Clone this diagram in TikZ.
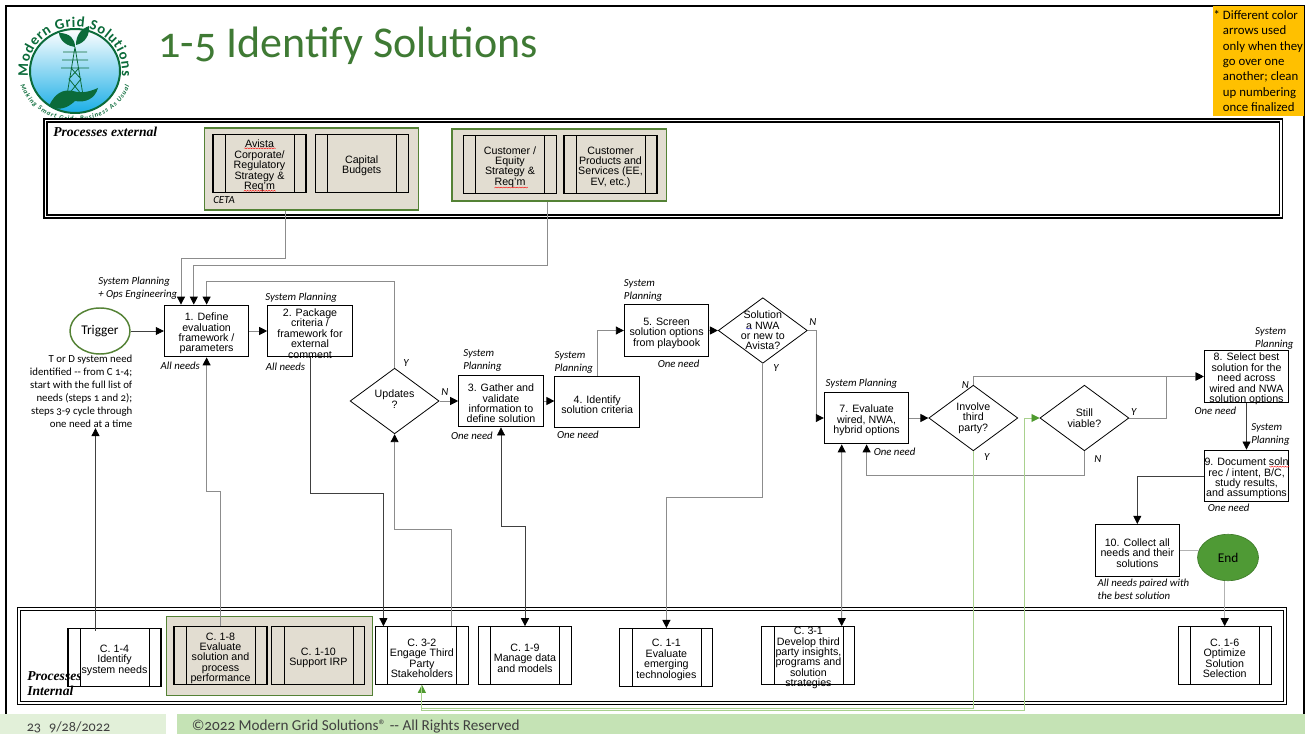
\documentclass[tikz,border=0pt]{standalone}
\usepackage{fontspec}
\usepackage{tikz}
\usetikzlibrary{arrows.meta,calc,shapes.geometric,decorations.text,decorations.pathmorphing}
\setmainfont{Liberation Sans}
\newfontfamily\cbfont[Numbers=OldStyle]{Carlito}
\newfontfamily\tmfont{Liberation Serif}
\newcommand{\firstline}{\rule{0pt}{9.6pt}}
\definecolor{titlegreen}{HTML}{3F7A34}
\definecolor{boxgreen}{HTML}{548235}
\definecolor{tanbg}{HTML}{E2DDD1}
\definecolor{logogreen}{HTML}{0B6B3A}
\definecolor{logoblue}{HTML}{1AAEE6}
\definecolor{notebg}{HTML}{FFC000}
\definecolor{foota}{HTML}{E2F0D9}
\definecolor{footb}{HTML}{C5E3B5}
\definecolor{grayline}{HTML}{8C8C8C}
\definecolor{lightgreen}{HTML}{A9D18E}
\definecolor{tipgreen}{HTML}{4E9A2E}
\definecolor{endgreen}{HTML}{4F9A35}
\begin{document}
\begin{tikzpicture}[x=0.75pt,y=-0.75pt,>={Triangle[length=6pt,width=6pt,color=black]}]
	\tikzstyle{boxtext}=[font=\fontsize{8}{7.8}\selectfont,align=center];
	\tikzstyle{stepbox}=[draw,line width=.8pt,fill=white,boxtext,inner sep=0pt,minimum width=63.4pt,minimum height=38.8pt];
	\tikzstyle{procbox}=[draw,line width=.8pt,fill=white,boxtext,inner sep=0pt,minimum width=69.75pt,minimum height=43.2pt,
		path picture={\draw[line width=.6pt] ([xshift=9pt]path picture bounding box.north west) -- ([xshift=9pt]path picture bounding box.south west)
		([xshift=-9pt]path picture bounding box.north east) -- ([xshift=-9pt]path picture bounding box.south east);}];
	\tikzstyle{tanbox}=[procbox,fill=tanbg];
	\tikzstyle{groupbox}=[draw=boxgreen,line width=.9pt,fill=tanbg,inner sep=0pt];
	\tikzstyle{decision}=[draw,line width=.6pt,fill=white,shape=diamond,inner sep=0pt,minimum width=66.75pt,minimum height=49.2pt];
	\tikzstyle{frame}=[draw,fill=white,line width=.9pt,double,double distance=1.4pt,inner sep=0pt];
	\tikzstyle{role}=[font=\cbfont\itshape\fontsize{8.1}{9.75}\selectfont,align=left,anchor=west,inner sep=0pt];
	\tikzstyle{kline}=[draw=black!75,line width=.5pt];
	\tikzstyle{gline}=[draw=grayline,line width=.7pt];
	\tikzstyle{greenline}=[draw=lightgreen,line width=.7pt,-{Triangle[length=6pt,width=6pt,color=tipgreen]}];
	\tikzstyle{squig}=[line width=.3pt,decorate,decoration={snake,amplitude=.35pt,segment length=2pt}];
	\useasboundingbox (0,0) rectangle (1305,734);

	% slide
	\draw[line width=1.5pt] (6,714) -- (6,6) -- (1304,6) -- (1304,714);
	\node[font=\cbfont\fontsize{33}{33}\selectfont,text=titlegreen,anchor=west,inner sep=0pt] (title) at (158,46) {1-5 Identify Solutions};
	\node[fill=notebg,inner sep=0pt,minimum width=68pt,minimum height=82.5pt] (note) at (1258.6,61) {};
	\node[font=\cbfont\fontsize{9.6}{11.5}\selectfont,align=left,anchor=north west,inner sep=0pt] (notetext) at (1222.7,10) {\llap{* }Different color\\arrows used\\only when they\\go over one\\another; clean\\up numbering\\once finalized};

	% logo
	\begin{scope}[x=0.75pt,y=0.75pt,shift={(56.25pt,-53.25pt)}]
		\shade[top color=white,middle color=white!60!logoblue,bottom color=logoblue,draw=logogreen,line width=1.5pt] (0,0) ellipse (45 and 42);
		\draw[logogreen,line width=.6pt] (0,24) -- (-8,-24) (0,24) -- (8,-24)
			(-12,19) -- (12,19) (-13,11) -- (13,11) (-14,3) -- (14,3)
			(-4,3) -- (6,-8) (4,3) -- (-6,-8) (-6,-8) -- (7,-24) (6,-8) -- (-7,-24);
		\fill[logogreen] (0,24) .. controls (-14,26) and (-16,36) .. (-16,38) .. controls (-5,38) and (0,32) .. (0,24);
		\fill[logogreen] (1,26) .. controls (1,36) and (6,42) .. (14,45) .. controls (15,36) and (10,28) .. (1,26);
		\fill[logogreen] (-26,-35) .. controls (-20,-22) and (-12,-18) .. (-2,-20) .. controls (4,-22) and (12,-22) .. (23,-17)
			.. controls (20,-28) and (10,-32) .. (0,-30) .. controls (-8,-38) and (-18,-40) .. (-26,-35);
		\path[decorate,decoration={text along path,text color=logogreen,text={|\cbfont\fontsize{11}{12}\selectfont\bfseries|Modern Grid Solutions},text align={fit to path}}]
			(187:47 and 44) arc (187:-7:47 and 44);
		\path[decorate,decoration={text along path,text color=logogreen,text={|\cbfont\fontsize{5}{6}\selectfont\bfseries\itshape|Making Smart Grids Business As Usual},text align={fit to path}}]
			(197:57 and 50) arc (197:343:57 and 50);
	\end{scope}

	% process frames
	\node[frame,minimum width=926.6pt,minimum height=72pt] (extframe) at (663.25,168.5) {};
	\node[frame,minimum width=949.6pt,minimum height=70.7pt] (intframe) at (651.9,655.85) {};
	\node[font=\tmfont\bfseries\itshape\fontsize{10.2}{11}\selectfont,anchor=west,inner sep=0pt] (extlabel) at (53,132) {Processes external};

	% groups
	\node[groupbox,minimum width=160.3pt,minimum height=61.5pt] (ga) at (311.6,169) {};
	\node[groupbox,minimum width=160.9pt,minimum height=54pt] (gb) at (559.2,165) {};
	\node[groupbox,minimum width=154.7pt,minimum height=59pt] (gc) at (269.35,656) {};

	% external
	\node[tanbox] (pa) at (259.5,163.5) {\firstline Avista\\Corporate/\\Regulatory\\Strategy \&\\Req'm};
	\node[tanbox] (pb) at (361.7,163.5) {\firstline Capital\\Budgets};
	\node[tanbox] (pc) at (510,164.5) {\firstline Customer /\\Equity\\Strategy \&\\Req'm};
	\node[tanbox] (pd) at (610.5,164.5) {\firstline Customer\\Products and\\Services (EE,\\EV, etc.)};
	\node[role] (ceta) at (213,200) {CETA};

	% internal
	\node[procbox] (c14) at (114.5,657.3) {\firstline C. 1-4\\Identify\\system needs};
	\node[tanbox] (c18) at (220.5,655.5) {\firstline C. 1-8\\Evaluate\\solution and\\process\\performance};
	\node[tanbox] (c110) at (318.4,655.5) {\firstline C. 1-10\\Support IRP};
	\node[procbox] (c32) at (421.9,655.5) {\firstline C. 3-2\\Engage Third\\Party\\Stakeholders};
	\node[procbox] (c19) at (525,655.5) {\firstline C. 1-9\\Manage data\\and models};
	\node[procbox] (c11) at (666.4,657.3) {\firstline C. 1-1\\Evaluate\\emerging\\technologies};
	\node[procbox,label={[name=c31text,boxtext]center:{\firstline C. 3-1\\Develop third\\party insights,\\programs and\\solution\\strategies}}] (c31) at (808.4,655.5) {};
	\node[procbox] (c16) at (1224.7,655.5) {\firstline C. 1-6\\Optimize\\Solution\\Selection};
	\node[font=\tmfont\bfseries\itshape\fontsize{10.2}{11.8}\selectfont,align=left,anchor=west,inner sep=0pt] (intlabel) at (27,683.5) {Processes\\Internal};

	% flow
	\node[draw=boxgreen,line width=1.1pt,fill=white,shape=ellipse,inner sep=0pt,minimum width=45pt,minimum height=34.5pt,font=\cbfont\fontsize{10}{11}\selectfont] (trig) at (100,331) {Trigger};
	\node[font=\cbfont\fontsize{8.1}{9.75}\selectfont,align=right,anchor=north east,inner sep=0pt] (trignote) at (132.6,355) {T or D system need\\identified -- from C 1-4;\\start with the full list of\\needs (steps 1 and 2);\\steps 3-9 cycle through\\one need at a time};
	\node[stepbox] (s1) at (206.6,331) {\firstline 1. Define\\evaluation\\framework /\\parameters};
	\node[stepbox,label={[name=s2text,boxtext]center:{\firstline 2. Package\\criteria /\\framework for\\external\\comment}}] (s2) at (310,331) {};
	\node[decision,label={[name=d2text,boxtext,yshift=1.5pt]center:{Updates\\?}}] (d2) at (394.6,401) {};
	\node[stepbox] (s3) at (501,401) {\firstline 3. Gather and\\validate\\information to\\define solution};
	\node[stepbox] (s4) at (597.2,402) {\firstline 4. Identify\\solution criteria};
	\node[stepbox] (s5) at (666.6,330.5) {\firstline 5. Screen\\solution options\\from playbook};
	\node[decision,label={[name=d5text,boxtext]center:{Solution\\a NWA\\or new to\\Avista?}}] (d5) at (762.8,330.5) {};
	\node[stepbox] (s7) at (866.6,418) {\firstline 7. Evaluate\\wired, NWA,\\hybrid options};
	\node[decision,label={[name=d7text,boxtext]center:{Involve\\third\\party?}}] (d7) at (973.3,418) {};
	\node[decision,label={[name=d8text,boxtext]center:{Still\\viable?}}] (d8) at (1084.4,418) {};
	\node[stepbox,label={[name=s8text,boxtext]center:{\firstline 8. Select best\\solution for the\\need across\\wired and NWA\\solution options}}] (s8) at (1246.5,376.5) {};
	\node[stepbox] (s9) at (1246.5,476) {\firstline 9. Document soln\\rec / intent, B/C,\\study results,\\and assumptions};
	\node[stepbox] (s10) at (1137.3,550.3) {\firstline 10. Collect all\\needs and their\\solutions};
	\node[fill=endgreen,draw=endgreen!80!black,line width=.5pt,shape=ellipse,inner sep=0pt,minimum width=45.7pt,minimum height=34.8pt,font=\cbfont\fontsize{10}{11}\selectfont] (endn) at (1228,557.5) {End};

	% connectors
	\draw[gline,->] ($(ga.south)+(-26.3,0)$) -- ++(0,47.5) -| ($(s1.north)+(-25.6,0)$);
	\draw[gline,->] ($(gb.south)+(-12.2,0)$) -- ++(0,64) -| ($(s1.north)+(-12.8,0)$);
	\draw[gline,->] (d2.north) -- ++(0,-86.7) -| (s1.north);
	\draw[kline,->] (trig.east) -- (s1.west);
	\draw[gline,->] (s1.east) -- (s2.west);
	\draw[kline,->] (s2.south) -- ++(0,135.7) -| ($(c32.north)+(-38.5,0)$);
	\draw[gline,->] (c18.north) -- ++(0,-135) -| (s1.south);
	\draw[kline,->] ($(c14.north)+(-19,3)$) -- ($(trignote.south east)+(-37.1,0)$);
	\draw[gline,->] ($(c32.north)+(29.1,0)$) -- ++(0,-96.7) -| (d2.south);
	\draw[kline,<->] (c19.north) -- ++(0,-99.4) -| (s3.south);
	\draw[gline,->] (d2.east) -- (s3.west);
	\draw[gline,->] (s3.east) -- (s3.east -| s4.west);
	\draw[gline,->] (s4.north) |- (s5.west);
	\draw[gline,->] (s5.east) -- (d5.west);
	\draw[gline,->] (d5.east) -- ++(8.3,0) |- (s7.west);
	\draw[gline,->] (d5.south) -- ++(0,133.3) -| (c11.north);
	\draw[gline,->] (s7.east) -- (d7.west);
	\draw[gline,->] (d7.north) |- (s8.west);
	\draw[gline,->] (d8.east) -- ++(37.6,0) |- (s8.west);
	\draw[gline,->] (d8.south) -- ++(0,24.3) -| (s7.south);
	\draw[gline,<->] ($(c31.north)+(33.3,0)$) -- ($(s7.south)+(-24.9,0)$);
	\draw[kline,->] (s8.south) -- (s9.north);
	\draw[kline,->] (s9.west) -| (s10.north);
	\draw[gline,draw=black!30] (s10.east) -- (s10.east -| endn.165);
	\draw[gline,draw=black!30,->] (c16.north |- endn.south) -- (c16.north);
	\draw[greenline] (d7.south) -- ++(0,257.7) -| (c32.south);
	\draw[greenline] (c32.south) -- ++(0,25.5) -| ($(d8.west)+(-15.3,0)$) -- (d8.west);

	% role labels
	\node[role] (r1) at (98,288) {System Planning\\+ Ops Engineering};
	\node[role] (r2) at (265,298) {System Planning};
	\node[role] (r3) at (463,360.2) {System\\Planning};
	\node[role] (r4) at (554.3,362.8) {System\\Planning};
	\node[role] (r5) at (623.7,290.5) {System\\Planning};
	\node[role] (r7) at (825.4,383.3) {System Planning};
	\node[role] (r8) at (1254.9,338.2) {System\\Planning};
	\node[role] (r9) at (1251,434.5) {System\\Planning};
	\node[role] (n1) at (160.4,366) {All needs};
	\node[role] (n2) at (265.6,366.7) {All needs};
	\node[role] (n3) at (450.8,435.3) {One need};
	\node[role] (n4) at (556.8,435) {One need};
	\node[role] (n5) at (657.5,363.3) {One need};
	\node[role] (n7) at (873.5,451.3) {One need};
	\node[role] (n8) at (1194.3,411) {One need};
	\node[role] (n9) at (1207.6,507.3) {One need};
	\node[role] (n10) at (1097.4,589.6) {All needs paired with\\the best solution};
	\node[role] (ua) at (403,362.7) {Y};
	\node[role] (ub) at (441,391.7) {N};
	\node[role] (va) at (809,321.7) {N};
	\node[role] (vb) at (773,367.7) {Y};
	\node[role] (wa) at (961.6,385) {N};
	\node[role] (wb) at (983.8,457) {Y};
	\node[role] (xa) at (1130.8,412) {Y};
	\node[role] (xb) at (1094,459) {N};

	% proofing marks
	\draw[squig,red] (244,148.3) -- (275,148.3) (243.7,191.3) -- (275.8,191.3) (494.4,188) -- (527,188) (1269.5,466.3) -- (1289,466.3);
	\draw[squig,blue!60] (746,328.7) -- (752,328.7);

	% footer
	\node[fill=foota,inner sep=0pt,minimum width=124.5pt,minimum height=15pt,anchor=north west] (footl) at (0,714) {};
	\node[fill=footb,inner sep=0pt,minimum width=846pt,minimum height=15pt,anchor=north west] (footr) at (177,714) {};
	\node[font=\cbfont\fontsize{10.6}{11}\selectfont,text=black!75,anchor=west,inner sep=0pt] (pageno) at (26.5,727) {23\hspace{6pt}9/28/2022};
	\node[font=\cbfont\fontsize{11.4}{12}\selectfont,text=black!75,anchor=west,inner sep=0pt] (copyr) at (191.5,726.5) {©2022 Modern Grid Solutions® -- All Rights Reserved};
\end{tikzpicture}
\end{document}
